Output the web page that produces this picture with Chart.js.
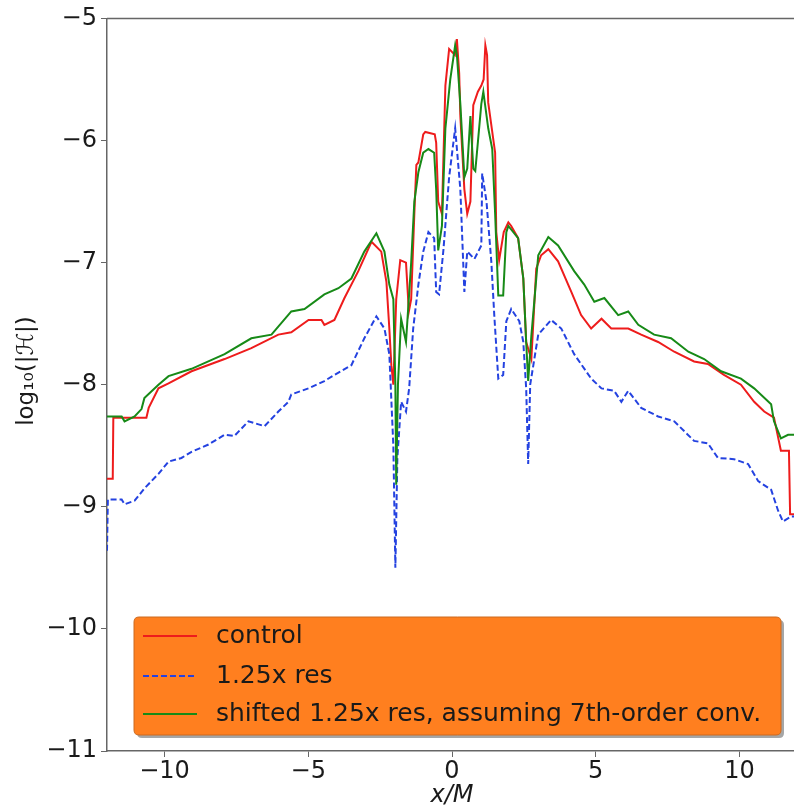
<!DOCTYPE html>
<html>
<head>
<meta charset="utf-8">
<script src="https://cdn.jsdelivr.net/npm/chart.js@4/dist/chart.umd.min.js"></script>
<style>
  html,body{ margin:0; padding:0; background:#fff; overflow:hidden; width:794px; height:810px; }
  canvas{ display:block; }
</style>
</head>
<body>
<canvas id="cv" width="797" height="810"></canvas>
<script>
// log10|H| along x/M — three runs

const yTicks = [-11, -10, -9, -8, -7, -6, -5];
const xTicks = [-10, -5, 0, 5, 10];
const yTitle = 'log\u2081\u2080(|\u210B|)';

const controlX = [-12,-11.8,-11.78,-10.63,-10.55,-10.21,-9.86,-9.06,-7.91,-6.98,-6.04,-5.59,-4.99,-4.54,-4.44,-4.09,-3.74,-3.26,-2.8,-2.46,-2.28,-2.18,-2.11,-2.04,-1.94,-1.8,-1.6,-1.5,-1.42,-1.31,-1.24,-1.17,-1.0,-0.93,-0.6,-0.55,-0.48,-0.35,-0.23,-0.1,0.1,0.17,0.25,0.29,0.43,0.53,0.64,0.74,0.9,1.02,1.1,1.16,1.22,1.26,1.5,1.54,1.64,1.8,1.96,2.06,2.3,2.48,2.58,2.76,2.93,3.1,3.35,3.69,4.15,4.49,4.84,5.2,5.54,6.13,6.58,7.17,7.73,8.42,8.9,9.46,10.05,10.51,10.86,11.2,11.44,11.72,11.76,12];
const controlY = [-8.77,-8.77,-8.27,-8.27,-8.19,-8.03,-7.99,-7.89,-7.79,-7.70,-7.59,-7.57,-7.47,-7.47,-7.51,-7.47,-7.29,-7.07,-6.83,-6.91,-7.16,-7.54,-7.84,-8.0,-7.3,-6.98,-7.0,-7.4,-7.3,-6.6,-6.2,-6.18,-5.95,-5.93,-5.95,-6.02,-6.5,-6.6,-5.55,-5.25,-5.3,-5.17,-5.45,-5.8,-6.4,-6.6,-6.5,-5.71,-5.6,-5.55,-5.5,-5.22,-5.3,-5.69,-6.1,-6.75,-6.98,-6.75,-6.67,-6.7,-6.8,-7.13,-7.65,-7.79,-7.05,-6.94,-6.89,-6.99,-7.24,-7.43,-7.54,-7.46,-7.54,-7.54,-7.59,-7.65,-7.73,-7.81,-7.83,-7.92,-8.0,-8.14,-8.22,-8.27,-8.54,-8.54,-9.06,-9.06];

const fineX = [-12,-11.97,-11.49,-11.39,-11.04,-10.7,-10.21,-9.86,-9.41,-9.06,-8.47,-7.91,-7.57,-7.08,-6.52,-6.04,-5.69,-5.59,-4.99,-4.44,-4.09,-3.5,-3.05,-2.63,-2.35,-2.18,-2.04,-1.97,-1.9,-1.77,-1.6,-1.49,-1.35,-1.17,-1.0,-0.82,-0.62,-0.55,-0.45,-0.3,-0.1,0.11,0.29,0.43,0.53,0.78,1.02,1.05,1.2,1.37,1.47,1.61,1.78,1.89,2.06,2.34,2.48,2.58,2.65,2.72,3.0,3.45,3.8,4.25,4.84,5.2,5.64,5.89,6.13,6.58,7.17,7.73,8.42,8.9,9.25,9.81,10.3,10.65,11.1,11.34,11.51,11.79,12];
const fineY = [-9.36,-8.94,-8.94,-8.98,-8.95,-8.85,-8.73,-8.63,-8.6,-8.55,-8.49,-8.41,-8.42,-8.3,-8.34,-8.22,-8.14,-8.08,-8.03,-7.97,-7.92,-7.84,-7.62,-7.44,-7.54,-7.75,-8.5,-9.5,-8.6,-8.14,-8.22,-8.03,-7.54,-7.18,-6.91,-6.75,-6.8,-7.24,-7.26,-6.9,-6.3,-5.9,-6.4,-7.24,-6.91,-6.97,-6.86,-6.27,-6.5,-7.0,-7.43,-7.95,-7.92,-7.48,-7.38,-7.48,-7.65,-8.03,-8.65,-8.0,-7.59,-7.47,-7.54,-7.75,-7.95,-8.03,-8.05,-8.14,-8.05,-8.19,-8.26,-8.3,-8.46,-8.48,-8.6,-8.61,-8.65,-8.79,-8.86,-9.03,-9.12,-9.08,-9.08];

const shiftedX = [-12,-11.49,-11.39,-11.04,-10.8,-10.7,-10.21,-9.86,-9.06,-7.91,-6.98,-6.28,-5.59,-5.13,-4.44,-3.95,-3.5,-3.05,-2.63,-2.35,-2.18,-2.04,-1.97,-1.94,-1.88,-1.77,-1.6,-1.42,-1.31,-1.17,-1.0,-0.82,-0.62,-0.55,-0.48,-0.35,-0.23,-0.06,0.11,0.17,0.29,0.43,0.53,0.64,0.74,0.81,1.02,1.09,1.26,1.4,1.5,1.61,1.78,1.89,1.96,2.3,2.48,2.58,2.65,2.76,3.0,3.35,3.69,4.25,4.6,4.95,5.3,5.78,6.13,6.48,7.03,7.62,8.22,8.77,9.36,10.05,10.51,11.1,11.2,11.44,11.69,12];
const shiftedY = [-8.26,-8.26,-8.3,-8.26,-8.2,-8.11,-8.0,-7.93,-7.87,-7.75,-7.62,-7.59,-7.4,-7.38,-7.26,-7.21,-7.13,-6.91,-6.76,-6.91,-7.18,-7.3,-8.0,-8.82,-8.0,-7.46,-7.65,-7.0,-6.5,-6.26,-6.1,-6.07,-6.1,-6.4,-6.9,-6.7,-5.9,-5.5,-5.22,-5.3,-5.7,-6.3,-6.23,-5.8,-6.23,-6.25,-5.7,-5.6,-5.9,-6.07,-6.6,-7.27,-7.27,-6.75,-6.7,-6.8,-7.13,-7.65,-7.97,-7.6,-6.94,-6.79,-6.86,-7.07,-7.18,-7.32,-7.29,-7.43,-7.4,-7.51,-7.59,-7.62,-7.73,-7.79,-7.89,-7.95,-8.03,-8.16,-8.3,-8.44,-8.41,-8.41];

const seriesNames = ['control', '1.25x res', 'shifted 1.25x res, assuming 7th-order conv.'];
const seriesColors = ['#ee1c1c', '#2442e0', '#178a17'];

function pts(xs, ys){ return xs.map((x,i)=>({ x, y: ys[i] })); }
function minus(v){ return String(v).replace('-', '\u2212'); }

const AXIS = '#666';
const FONT = 'DejaVu Sans';

// matplotlib-like legend box with orange face, plus top spine and y label
const legendBox = {
  id:'legendBox',
  afterDraw(chart){
    const c = chart.ctx;
    const bx = 134, by = 617, bw = 647, bh = 118;
    c.save();
    c.fillStyle = 'rgba(0,0,0,0.35)';
    roundRect(c, bx+3, by+3, bw, bh, 5); c.fill();
    c.fillStyle = '#ff7f1f';
    roundRect(c, bx, by, bw, bh, 5); c.fill();
    c.strokeStyle = '#cc6a20'; c.lineWidth = 1;
    roundRect(c, bx, by, bw, bh, 5); c.stroke();
    const rows = [636, 676, 714];
    c.font = '25px "' + FONT + '"';
    c.textBaseline = 'middle';
    rows.forEach((ry, i)=>{
      c.strokeStyle = seriesColors[i];
      c.lineWidth = 2;
      c.setLineDash(i===1 ? [6,3] : []);
      c.beginPath(); c.moveTo(143, ry); c.lineTo(197, ry); c.stroke();
      c.setLineDash([]);
      c.fillStyle = '#1a1a1a';
      c.fillText(seriesNames[i], 216, ry);
    });
    // top spine
    const a = chart.chartArea;
    c.strokeStyle = AXIS; c.lineWidth = 1.5;
    c.beginPath(); c.moveTo(a.left, a.top); c.lineTo(a.right, a.top); c.stroke();
    // y axis label
    c.translate(27, 371);
    c.rotate(-Math.PI/2);
    c.font = '23px "' + FONT + '"';
    c.textAlign = 'center';
    c.fillStyle = '#1a1a1a';
    c.fillText(yTitle, 0, 0);
    c.restore();
  }
};
function roundRect(c, x, y, w, h, r){
  c.beginPath();
  c.moveTo(x+r, y); c.lineTo(x+w-r, y); c.quadraticCurveTo(x+w, y, x+w, y+r);
  c.lineTo(x+w, y+h-r); c.quadraticCurveTo(x+w, y+h, x+w-r, y+h);
  c.lineTo(x+r, y+h); c.quadraticCurveTo(x, y+h, x, y+h-r);
  c.lineTo(x, y+r); c.quadraticCurveTo(x, y, x+r, y);
  c.closePath();
}

const ds = (name, data, color, dash, order) => ({
  label:name, data, borderColor:color, backgroundColor:color,
  borderWidth:2, borderDash:dash, pointRadius:0, tension:0, fill:false, order
});

new Chart(document.getElementById('cv'), {
  type:'line',
  data:{ datasets:[
    ds(seriesNames[0], pts(controlX, controlY), seriesColors[0], [], 2),
    ds(seriesNames[1], pts(fineX, fineY), seriesColors[1], [6,3], 1),
    ds(seriesNames[2], pts(shiftedX, shiftedY), seriesColors[2], [], 0)
  ]},
  options:{
    responsive:false, animation:false,
    layout:{ padding:{ top:16, right:0, left:0, bottom:0 } },
    plugins:{ legend:{ display:false }, tooltip:{ enabled:false } },
    scales:{
      x:{
        type:'linear', min:-12, max:12,
        afterBuildTicks(s){ s.ticks = xTicks.map(v=>({ value:v })); },
        afterFit(s){ s.height = 59; },
        ticks:{ color:'#1a1a1a', font:{ family:FONT, size:24 }, padding:0, maxRotation:0,
          callback:v=>minus(v) },
        grid:{ drawOnChartArea:false, drawTicks:true, tickLength:6, color:AXIS },
        border:{ color:AXIS, width:1.5 },
        title:{ display:true, text:'x/M', color:'#1a1a1a', padding:{ top:-8, bottom:0 },
          font:{ family:FONT, size:24, style:'italic' } }
      },
      y:{
        min:-11, max:-5,
        afterBuildTicks(s){ s.ticks = yTicks.map(v=>({ value:v })); },
        afterFit(s){ s.width = 107; },
        ticks:{ color:'#1a1a1a', font:{ family:FONT, size:24 }, padding:4,
          callback:v=>minus(v) },
        grid:{ drawOnChartArea:false, drawTicks:true, tickLength:6, color:AXIS },
        border:{ color:AXIS, width:1.5 },
        title:{ display:false }
      }
    }
  },
  plugins:[legendBox]
});
</script>
</body>
</html>
